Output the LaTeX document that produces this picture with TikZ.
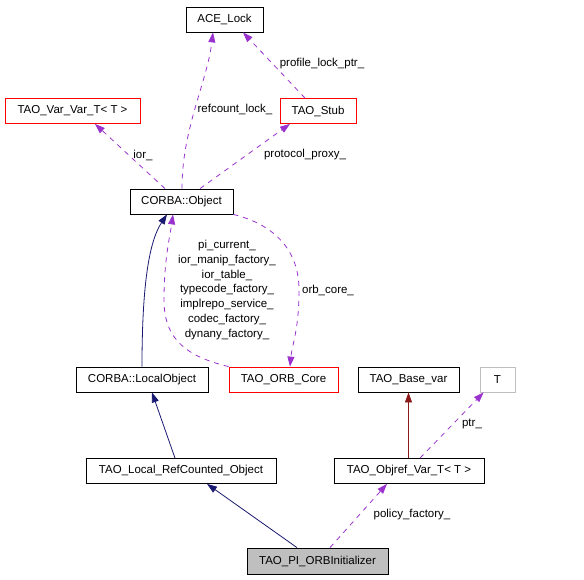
\documentclass[tikz,border=0pt]{standalone}
\usepackage{fontspec}
\setmainfont{Liberation Sans}
\usetikzlibrary{arrows.meta}
\definecolor{usecol}{HTML}{9A32CD}
\definecolor{inhcol}{HTML}{191970}
\definecolor{tplcol}{HTML}{8B1A1A}
\definecolor{nodegray}{HTML}{BFBFBF}
\tikzset{
  classbox/.style={draw, line width=0.8pt, minimum height=25pt, inner sep=0pt, font=\fontsize{11.5}{13}\selectfont},
  redbox/.style={classbox, draw=red},
  usedge/.style={draw=usecol, line width=0.8pt, dash pattern=on 5pt off 5pt, -{Triangle[length=10pt,width=7pt]}, usecol},
  inhedge/.style={draw=inhcol, line width=0.8pt, -{Triangle[length=10pt,width=7pt]}, inhcol},
  tpledge/.style={draw=tplcol, line width=0.8pt, -{Triangle[length=10pt,width=7pt]}, tplcol},
  edgelabel/.style={font=\fontsize{11.5}{14.7}\selectfont, inner sep=0pt, align=center}
}
\begin{document}
\begin{tikzpicture}[x=1pt,y=-1pt]
  \useasboundingbox (0,0) rectangle (584,579);
  \node[classbox, minimum width=77pt] (acelock) at (224.5,19.5) {ACE\_Lock};
  \node[redbox, minimum width=135pt] (varvar) at (72.5,111) {TAO\_Var\_Var\_T< T >};
  \node[redbox, minimum width=76pt] (stub) at (318,111) {TAO\_Stub};
  \node[classbox, minimum width=103pt] (object) at (181.5,201.5) {CORBA::Object};
  \node[classbox, minimum width=132pt] (localobj) at (142,379.5) {CORBA::LocalObject};
  \node[redbox, minimum width=109pt] (orbcore) at (283.5,379.5) {TAO\_ORB\_Core};
  \node[classbox, minimum width=101pt] (basevar) at (408.5,379.5) {TAO\_Base\_var};
  \node[classbox, draw=nodegray, minimum width=35pt] (tparam) at (497.5,379.5) {T};
  \node[classbox, minimum width=190pt] (refcounted) at (181,471) {TAO\_Local\_RefCounted\_Object};
  \node[classbox, minimum width=150pt] (objref) at (409,471) {TAO\_Objref\_Var\_T< T >};
  \node[classbox, fill=nodegray, minimum width=141pt, minimum height=26pt] (orbinit) at (317.5,561) {TAO\_PI\_ORBInitializer};

  \path[usedge] ([xshift=0.5pt]object.north) .. controls +(0,-60) and +(-6,50) .. ([xshift=-11.5pt]acelock.south);
  \path[usedge] ([xshift=-13pt]stub.north) -- ([xshift=18.5pt]acelock.south);
  \path[usedge] ([xshift=-16.5pt]object.north) -- ([xshift=22.5pt]varvar.south);
  \path[usedge] ([xshift=18.5pt]object.north) -- ([xshift=-28pt]stub.south);
  \path[usedge] (orbcore.north west) .. controls (190,357) and (164,342) .. (164,300) .. controls (164,260) and (170,236) .. ([xshift=-8.5pt]object.south);
  \path[usedge] (object.south east) .. controls (272,224) and (299,248) .. (299,290) .. controls (299,330) and (292,345) .. ([xshift=6.5pt]orbcore.north);
  \path[inhedge] (localobj.north) .. controls (142,280) and (150,240) .. ([xshift=-14.5pt]object.south);
  \path[inhedge] ([xshift=-6pt]refcounted.north) -- ([xshift=10pt]localobj.south);
  \path[inhedge] ([xshift=-20.5pt]orbinit.north) -- ([xshift=26pt]refcounted.south);
  \path[usedge] ([xshift=12.5pt]orbinit.north) -- ([xshift=-22pt]objref.south);
  \path[tpledge] ([xshift=-0.5pt]objref.north) -- ([xshift=-0.5pt]objref.north |- basevar.south);
  \path[usedge] ([xshift=11pt]objref.north) -- ([xshift=4pt]tparam.south west);

  \node[edgelabel] (lbllockptr) at (322,64) {profile\_lock\_ptr\_};
  \node[edgelabel] (lblrefcount) at (235,109) {refcount\_lock\_};
  \node[edgelabel] (lblior) at (143,155) {ior\_};
  \node[edgelabel] (lblproxy) at (305,155) {protocol\_proxy\_};
  \node[edgelabel] (lblmembers) at (227,290) {pi\_current\_\\ior\_manip\_factory\_\\ior\_table\_\\typecode\_factory\_\\implrepo\_service\_\\codec\_factory\_\\dynany\_factory\_};
  \node[edgelabel] (lblorbcore) at (328,290) {orb\_core\_};
  \node[edgelabel] (lblptr) at (472,424) {ptr\_};
  \node[edgelabel] (lblpolicy) at (412,515) {policy\_factory\_};
\end{tikzpicture}
\end{document}
